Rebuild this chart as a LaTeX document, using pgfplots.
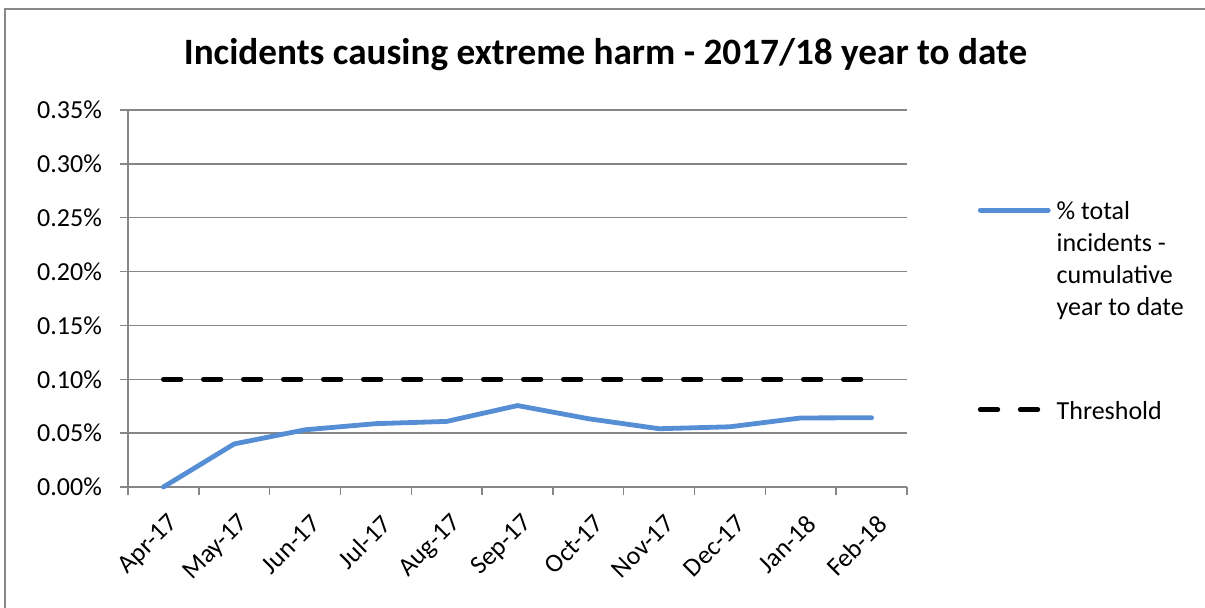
\documentclass[border=0pt]{standalone}
\usepackage{pgfplots}
\pgfplotsset{compat=1.18}
\usepackage{fontspec}
\setmainfont{Carlito}
\definecolor{lineblue}{RGB}{85,142,213}
\definecolor{gridgray}{RGB}{134,134,134}
\definecolor{bordergray}{RGB}{136,136,136}
\begin{document}
\begin{tikzpicture}
\useasboundingbox (0,0) rectangle (602.5pt,-304pt);
\draw[bordergray, line width=1pt] (2.5pt,-320pt) -- (2.5pt,-4.5pt) -- (620pt,-4.5pt);
\node[anchor=base, font=\fontsize{18.6}{22}\selectfont\bfseries] at (302.75pt,-32.5pt) {Incidents causing extreme harm - 2017/18 year to date};
\begin{axis}[
  at={(64pt,-243.5pt)}, anchor=south west,
  scale only axis, width=389.5pt, height=188.5pt,
  xmin=-0.5, xmax=10.5, ymin=0, ymax=0.35,
  clip=false,
  axis x line*=bottom, axis y line*=left,
  axis line style={draw=gridgray, line width=0.75pt, -},
  ymajorgrids, grid style={draw=gridgray, line width=0.75pt},
  ytick={0,0.05,0.10,0.15,0.20,0.25,0.30,0.35},
  yticklabels={0.00\%,0.05\%,0.10\%,0.15\%,0.20\%,0.25\%,0.30\%,0.35\%},
  yticklabel style={font=\fontsize{13}{15.6}\selectfont, xshift=-5.5pt},
  xtick={0,...,10},
  xticklabels={Apr-17,May-17,Jun-17,Jul-17,Aug-17,Sep-17,Oct-17,Nov-17,Dec-17,Jan-18,Feb-18},
  xticklabel style={font=\fontsize{13}{15.6}\selectfont, xshift=7.75pt, yshift=-9.9pt, rotate=45, anchor=east},
  tick align=outside,
  major tick length=4pt,
  tick style={draw=gridgray, line width=0.75pt},
  xtick style={draw=none},
  extra x ticks={-0.5,0.5,1.5,2.5,3.5,4.5,5.5,6.5,7.5,8.5,9.5,10.5},
  extra x tick labels={},
  extra x tick style={xtick style={draw=gridgray, line width=0.75pt}, grid=none},
  legend style={at={(rel axis cs:1.091,0.768)}, anchor=north west, draw=none, fill=none,
    inner sep=0pt, outer sep=0pt, row sep=87pt, column sep=3pt,
    nodes={inner sep=0pt, font=\fontsize{13}{16}\selectfont}},
  legend cell align=left,
  legend image code/.code={\draw[#1] (0pt,0pt) -- (34pt,0pt);},
]
\addplot[lineblue, line width=2.4pt, line cap=round, line join=round] coordinates {
(0,0) (1,0.040) (2,0.0531) (3,0.0588) (4,0.0609) (5,0.0756) (6,0.0634) (7,0.0541) (8,0.0559) (9,0.0641) (10,0.0643)
};
\addlegendentry{\begin{tabular}[t]{@{}l@{}}\% total\\incidents -\\cumulative\\year to date\end{tabular}}
\addplot[black, line width=2.4pt, line cap=round, dash pattern=on 8.75pt off 11.25pt] coordinates {
(0,0.10) (1,0.10) (2,0.10) (3,0.10) (4,0.10) (5,0.10) (6,0.10) (7,0.10) (8,0.10) (9,0.10) (10,0.10)
};
\addlegendentry{\begin{tabular}[t]{@{}l@{}}Threshold\end{tabular}}
\end{axis}
\end{tikzpicture}
\end{document}
